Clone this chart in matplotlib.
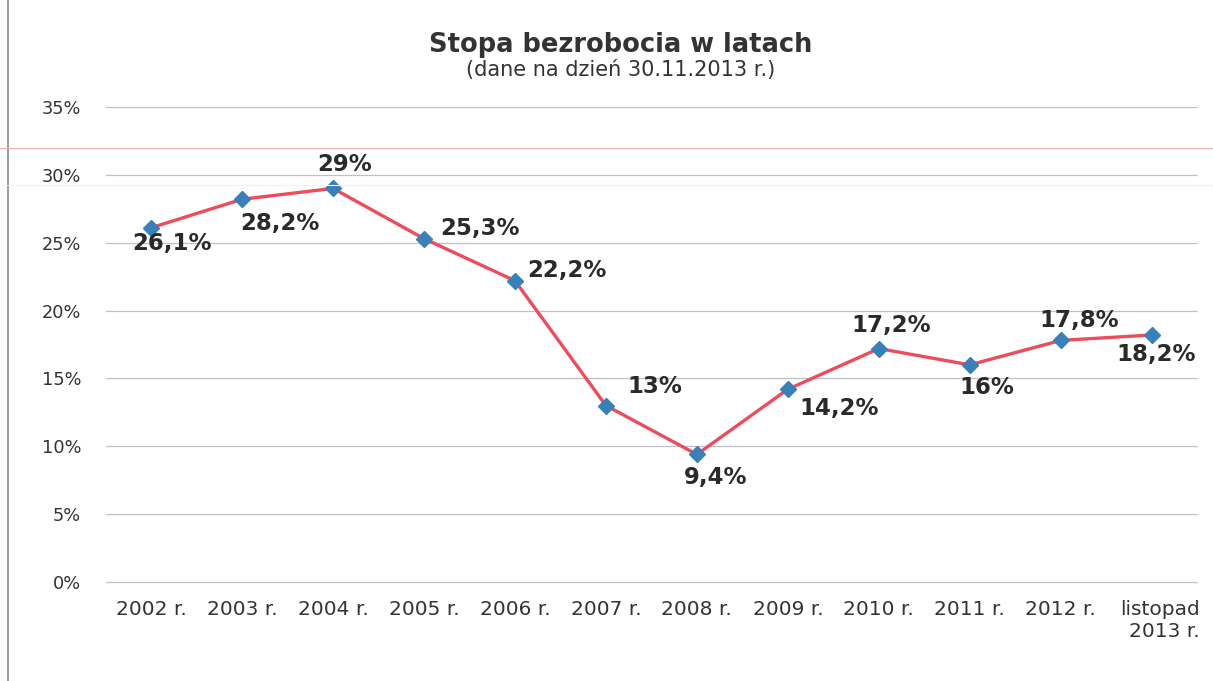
import matplotlib
matplotlib.use("Agg")
import matplotlib.pyplot as plt
import matplotlib.transforms as mtransforms
from matplotlib.lines import Line2D

categories = ["2002 r.", "2003 r.", "2004 r.", "2005 r.", "2006 r.", "2007 r.",
              "2008 r.", "2009 r.", "2010 r.", "2011 r.", "2012 r.", "listopad\n2013 r."]
values = [26.1, 28.2, 29.0, 25.3, 22.2, 13.0, 9.4, 14.2, 17.2, 16.0, 17.8, 18.2]
value_labels = ["26,1%", "28,2%", "29%", "25,3%", "22,2%", "13%",
                "9,4%", "14,2%", "17,2%", "16%", "17,8%", "18,2%"]
label_offsets = [(21, -16), (38, -24), (12, 24), (56, 10), (52, 10), (49, 19),
                 (19, -23), (51, -19), (12, 23), (17, -23), (18, 20), (4, -20)]
yticks = [0, 5, 10, 15, 20, 25, 30, 35]
ytick_labels = ["0%", "5%", "10%", "15%", "20%", "25%", "30%", "35%"]
title = "Stopa bezrobocia w latach"
subtitle = "(dane na dzień 30.11.2013 r.)"

plt.rcParams['font.family'] = ['DejaVu Sans']

fig = plt.figure(figsize=(12.13, 6.81), dpi=100)
ax = fig.add_axes([0.087, 0.1454, 0.900, 0.6975])

x = list(range(len(categories)))
ax.plot(x, values, color="#ec4c5c", lw=2.4, zorder=3)
ax.plot(x, values, linestyle="none", marker="D", ms=8, color="#3a80b8",
        markeredgecolor="#3a80b8", zorder=4)

for xi, v, lab, (dx, dy) in zip(x, values, value_labels, label_offsets):
    ax.annotate(lab, (xi, v), xytext=(dx * 0.72, dy * 0.72), textcoords="offset points",
                ha="center", va="center", fontsize=16.5, fontweight="bold",
                color="#2a2a2a", zorder=5)

ax.set_xlim(-0.5, len(categories) - 0.5)
ax.set_ylim(0, 35)
ax.set_yticks(yticks)
ax.set_yticklabels(ytick_labels, fontsize=12.8, color="#333333")
ax.set_xticks(x)
ax.set_xticklabels(categories, fontsize=14.5, color="#333333", multialignment="right")
ax.tick_params(axis="both", length=0)
ax.tick_params(axis="y", pad=17.5)
ax.tick_params(axis="x", pad=13)
ax.grid(axis="y", color="#9a9aa8", lw=0.9, linestyle=(0, (1, 0.6)))
ax.set_axisbelow(True)
for gl in ax.get_ygridlines():
    gl.set_clip_on(False)
for s in ax.spines.values():
    s.set_visible(False)

last = ax.get_xticklabels()[-1]
last.set_transform(last.get_transform() +
                   mtransforms.ScaledTranslation(8 / 100, 0, fig.dpi_scale_trans))

fig.text(0.512, 0.934, title, ha="center", va="center", fontsize=18.5,
         fontweight="bold", color="#333333")
fig.text(0.512, 0.897, subtitle, ha="center", va="center", fontsize=15,
         color="#333333")

# scan artefacts: faint border and colored lines
fig.add_artist(Line2D([8 / 1213, 8 / 1213], [0, 1], transform=fig.transFigure,
                      color="#888888", lw=1.2))
fig.add_artist(Line2D([0, 1], [1 - 148 / 681] * 2, transform=fig.transFigure,
                      color="#f0b0b0", lw=0.8))
fig.add_artist(Line2D([0, 1], [1 - 185 / 681] * 2, transform=fig.transFigure,
                      color="#f6f6d0", lw=0.8))

fig.savefig("out.png", dpi=100)
